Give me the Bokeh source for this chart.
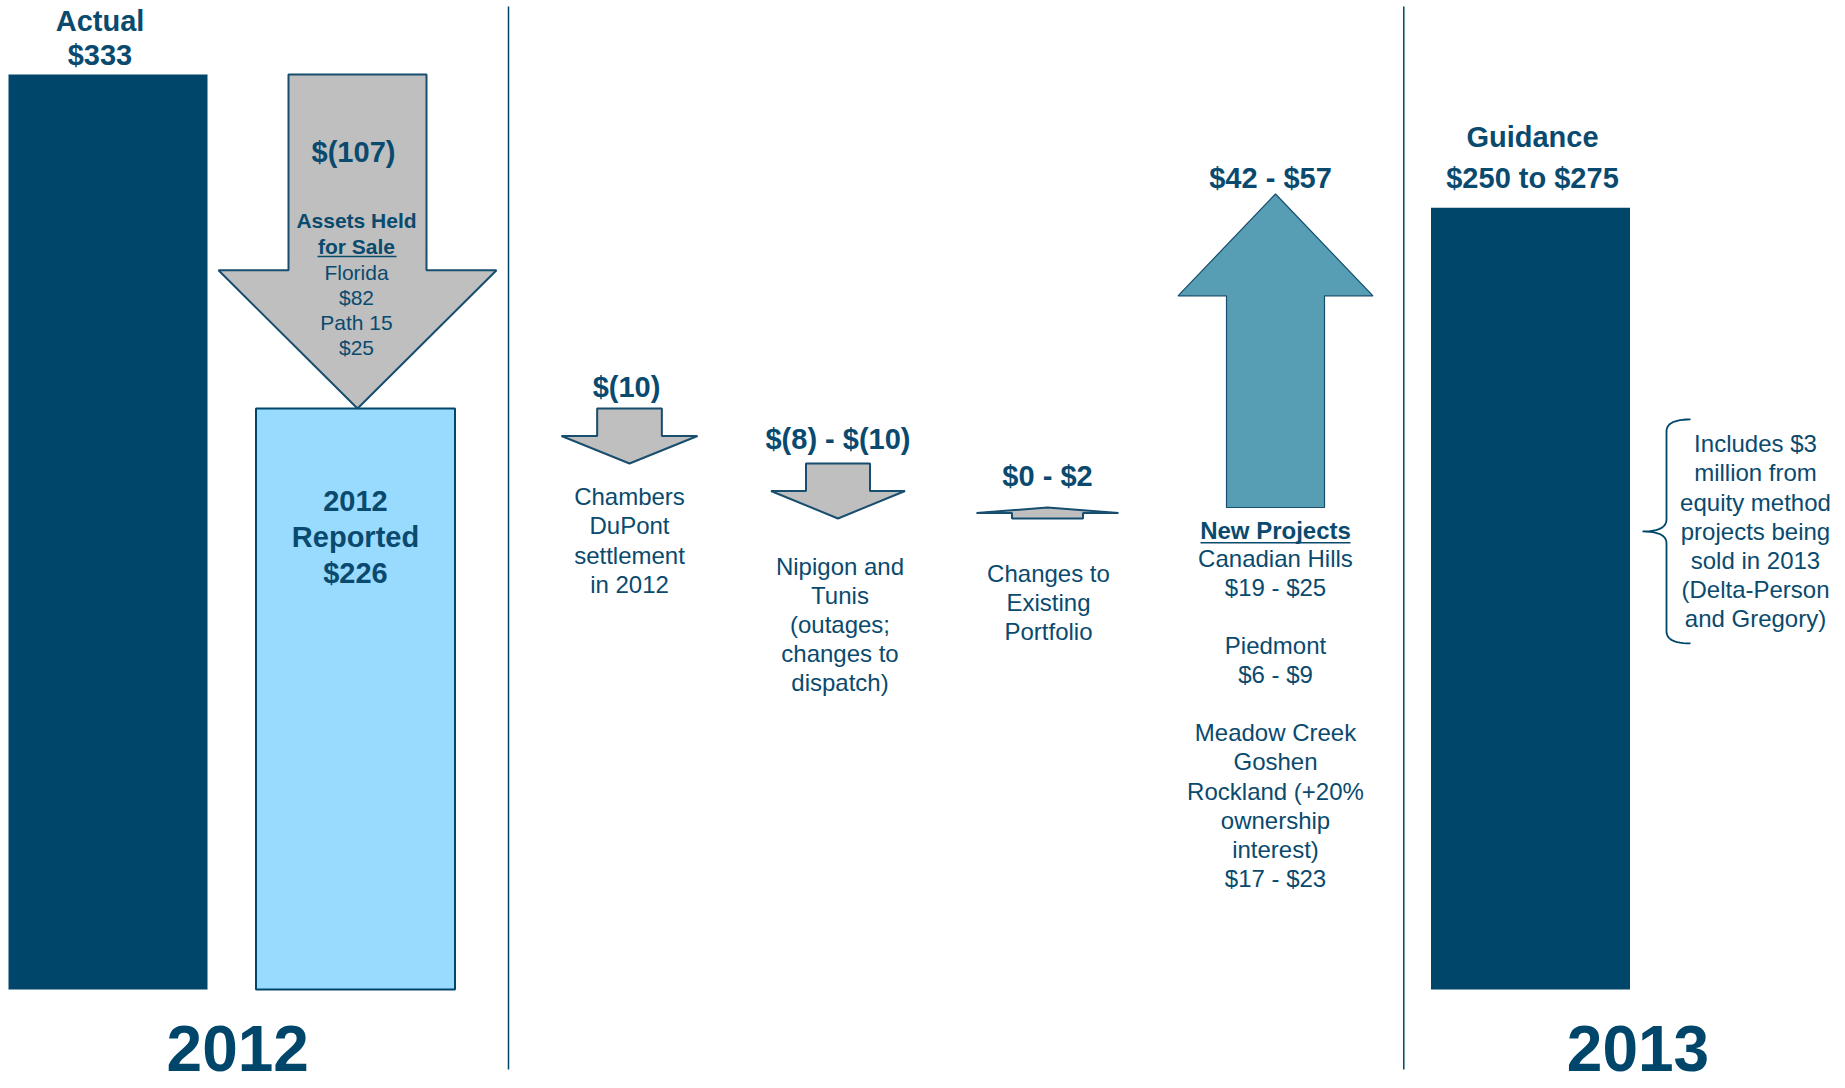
from bokeh.plotting import figure
from bokeh.models import Range1d
from bokeh.core.properties import value
from bokeh.embed import file_html
from bokeh.resources import INLINE

# ---------------- data ($ millions) ----------------
actual_2012 = 333
held_for_sale_names = ["Florida", "Path 15"]
held_for_sale_values = [82, 25]
reported_2012 = 226
chambers_dupont = [-10]
nipigon_tunis = [-8, -10]
existing_portfolio = [0, 2]
new_project_names = ["Canadian Hills", "Piedmont",
                     "Meadow Creek\nGoshen\nRockland (+20%\nownership\ninterest)"]
new_project_low = [19, 6, 17]
new_project_high = [25, 9, 23]
guidance_2013 = [250, 275]
equity_method_2013 = 3
years = ["2012", "2013"]

# ---------------- styles / layout ----------------
NAVY = "#00466B"
TEXT = "#0A4A6E"
LIGHT = "#99DBFF"
GRAY = "#BFBFBF"
TEAL = "#579EB4"
EDGE = "#174D6E"
FONT = "Liberation Sans"

W, H = 1845, 1088
MAIN_Y = (8.16, 356.71)       # value axis of the 2012 columns (truncated)
BRIDGE_Y = (102.36, 300.18)   # value axis of the bridge / 2013 columns
S_MAIN = H / (MAIN_Y[1] - MAIN_Y[0])
S_BR = H / (BRIDGE_Y[1] - BRIDGE_Y[0])
YEAR_BAND = 99                # px kept free under the bars for the year labels
FLOOR_MAIN = MAIN_Y[0] + YEAR_BAND / S_MAIN
FLOOR_BR = BRIDGE_Y[0] + YEAR_BAND / S_BR
LH_K = 1.117                  # font height factor used by the text layout


def lh(spacing, size):
    return spacing / (size * LH_K)


COL = dict(actual=107.5, reported=355, chambers=629, nipigon=837.5,
           changes=1047, new=1275, guidance=1530, note=1755)
DIVIDERS = [508, 1403.3]
BAR_W = 199


def money(v):
    return f"$({-v})" if v < 0 else f"${v}"


def money_range(r, sep=" - "):
    return f"{money(r[0])}{sep}{money(r[1])}"


def far(r):
    return max(r, key=abs)


def arrow_poly(cx, y0, y1, shaft_w, head_w, head_frac):
    d = 1 if y1 > y0 else -1
    yb = y1 - d * abs(y1 - y0) * head_frac
    xs = [cx - shaft_w / 2, cx + shaft_w / 2, cx + shaft_w / 2, cx + head_w / 2,
          cx, cx - head_w / 2, cx - shaft_w / 2]
    ys = [y0, y0, yb, yb, y1, yb, yb]
    return xs, ys


# ---------------- waterfall levels ----------------
held_total = sum(held_for_sale_values)
lvl_after_sale = actual_2012 - held_total
lvl_cham = reported_2012 + chambers_dupont[0]
lvl_nip = lvl_cham + far(nipigon_tunis)
lvl_port = lvl_nip + far(existing_portfolio)
new_total = [sum(new_project_low), sum(new_project_high)]
lvl_new = lvl_port + new_total[1]
guid_mid = sum(guidance_2013) / 2

p = figure(width=W, height=H, x_range=Range1d(0, W), y_range=Range1d(*MAIN_Y),
           x_axis_type=None, y_axis_type=None, toolbar_location=None,
           output_backend="svg", min_border=0,
           outline_line_color=None, background_fill_color="white",
           border_fill_color="white")
p.extra_y_ranges = {"bridge": Range1d(*BRIDGE_Y)}

# dividers
p.segment(x0=DIVIDERS, y0=[MAIN_Y[1] - 6 / S_MAIN] * 2, x1=DIVIDERS,
          y1=[MAIN_Y[0] + 19 / S_MAIN] * 2, line_color=NAVY, line_width=1.5)

# bars
p.vbar(x=[COL["actual"]], top=[actual_2012], bottom=FLOOR_MAIN, width=BAR_W,
       fill_color=NAVY, line_color=None)
p.vbar(x=[COL["reported"]], top=[reported_2012], bottom=FLOOR_MAIN, width=BAR_W,
       fill_color=LIGHT, line_color=NAVY, line_width=2)
p.vbar(x=[COL["guidance"]], top=[guid_mid], bottom=FLOOR_BR, width=BAR_W,
       fill_color=NAVY, line_color=None, y_range_name="bridge")

# arrows
xs, ys = arrow_poly(COL["reported"] + 2, actual_2012, lvl_after_sale, 138, 278, 0.414)
p.patches(xs=[xs], ys=[ys], fill_color=GRAY, line_color=EDGE, line_width=2)

gx, gy = [], []
for cx, y0, y1, sw, hw, hf in [
        (COL["chambers"], reported_2012, lvl_cham, 64.7, 136, 0.5),
        (COL["nipigon"], lvl_cham, lvl_nip, 64, 134, 0.5),
        (COL["changes"], lvl_nip, lvl_port, 71, 142, 0.5)]:
    a, b = arrow_poly(cx, y0, y1, sw, hw, hf)
    gx.append(a)
    gy.append(b)
p.patches(xs=gx, ys=gy, fill_color=GRAY, line_color=EDGE, line_width=2,
          y_range_name="bridge")
xs, ys = arrow_poly(COL["new"], lvl_port, lvl_new, 98, 195, 0.325)
p.patches(xs=[xs], ys=[ys], fill_color=TEAL, line_color=EDGE, line_width=1.2,
          y_range_name="bridge")


# texts
def txt(col, anchor, dy, text, size, bold=False, spacing=None, rng="default", dx=0,
        baseline="middle", color=TEXT):
    kw = {} if rng == "default" else {"y_range_name": rng}
    line_h = lh(spacing, size) if spacing else 1.2
    p.text(x=[COL[col] if isinstance(col, str) else col], y=[anchor], text=[text],
           x_offset=dx, y_offset=dy,
           text_align="center", text_baseline=baseline, text_font=value(FONT),
           text_font_style="bold" if bold else "normal",
           text_font_size=f"{size}px", text_color=color, text_line_height=line_h, **kw)


def underline(col, anchor, dy, width, rng="default", dx=0):
    s = S_MAIN if rng == "default" else S_BR
    kw = {} if rng == "default" else {"y_range_name": rng}
    y = anchor - dy / s
    x = COL[col] + dx
    p.segment(x0=[x - width / 2], y0=[y], x1=[x + width / 2], y1=[y],
              line_color=TEXT, line_width=1.6, **kw)


REG = 28.9  # line spacing of the 24px notes

txt("actual", actual_2012, -36.5, f"Actual\n{money(actual_2012)}", 29, True, spacing=35, dx=-8)
txt("reported", actual_2012, 77, money(-held_total), 29, True, dx=-2)
txt("reported", actual_2012, 159, "Assets Held\nfor Sale", 21, True, spacing=26, dx=1)
underline("reported", actual_2012, 182, 79, dx=1.5)
txt("reported", actual_2012, 235.7,
    "\n".join(f"{n}\n{money(v)}" for n, v in zip(held_for_sale_names, held_for_sale_values)),
    21, False, spacing=25.5, dx=1)
txt("reported", reported_2012, 128.6, f"{years[0]}\nReported\n{money(reported_2012)}",
    29, True, spacing=36.5)

txt("chambers", reported_2012, -21.3, money(chambers_dupont[0]), 29, True, rng="bridge", dx=-3)
txt("chambers", reported_2012, 132, "Chambers\nDuPont\nsettlement\nin 2012", 24,
    spacing=REG, rng="bridge")
txt("nipigon", lvl_cham, -24.7, money_range(nipigon_tunis), 29, True, rng="bridge")
txt("nipigon", lvl_cham, 161.2, "Nipigon and\nTunis\n(outages;\nchanges to\ndispatch)", 24,
    spacing=REG, rng="bridge", dx=2)
txt("changes", lvl_port, -31.6, money_range(existing_portfolio), 29, True, rng="bridge")
txt("changes", lvl_nip, 83.9, "Changes to\nExisting\nPortfolio", 24, spacing=REG,
    rng="bridge", dx=1)
txt("new", lvl_new, -16, money_range(new_total), 29, True, rng="bridge", dx=-5)
txt("new", lvl_port, 23, "New Projects", 24, True, rng="bridge")
underline("new", lvl_port, 35.3, 150, rng="bridge")
txt("new", lvl_port, 210.8,
    "\n\n".join(f"{n}\n{money_range([lo, hi])}"
                for n, lo, hi in zip(new_project_names, new_project_low, new_project_high)),
    24, spacing=REG, rng="bridge")
txt("guidance", guid_mid, -50, f"Guidance\n{money_range(guidance_2013, ' to ')}", 29, True,
    spacing=41.7, rng="bridge", dx=2)
txt("note", guid_mid, 323.4,
    f"Includes {money(equity_method_2013)}\nmillion from\nequity method\nprojects being\n"
    f"sold in {years[1]}\n(Delta-Person\nand Gregory)", 24, spacing=REG, rng="bridge")

# brace next to the note
bc = guid_mid - 323.7 / S_BR
half = 112 / S_BR
r = 12 / S_BR
tip_x, spine_x, end_x = COL["note"] - 113, COL["note"] - 89, COL["note"] - 65


def quad(p0, c, p1, n=12):
    pts = []
    for i in range(n + 1):
        t = i / n
        pts.append(((1 - t) ** 2 * p0[0] + 2 * (1 - t) * t * c[0] + t * t * p1[0],
                    (1 - t) ** 2 * p0[1] + 2 * (1 - t) * t * c[1] + t * t * p1[1]))
    return pts


path = []
path += quad((end_x, bc + half), (spine_x, bc + half), (spine_x, bc + half - r))
path += quad((spine_x, bc + r), (spine_x, bc), (tip_x, bc))
path += quad((tip_x, bc), (spine_x, bc), (spine_x, bc - r))
path += quad((spine_x, bc - half + r), (spine_x, bc - half), (end_x, bc - half))
p.line(x=[q[0] for q in path], y=[q[1] for q in path], line_color=NAVY, line_width=1.8,
       y_range_name="bridge")

# year labels under the columns
for yr, cols, dx, dy in [(years[0], ("actual", "reported"), 6, -40),
                         (years[1], ("guidance", "note"), -5, -40)]:
    txt((COL[cols[0]] + COL[cols[1]]) / 2, MAIN_Y[0], dy, yr, 64, True, dx=dx,
        baseline="alphabetic", color=NAVY)

open("out.html", "w").write(file_html(p, INLINE))
